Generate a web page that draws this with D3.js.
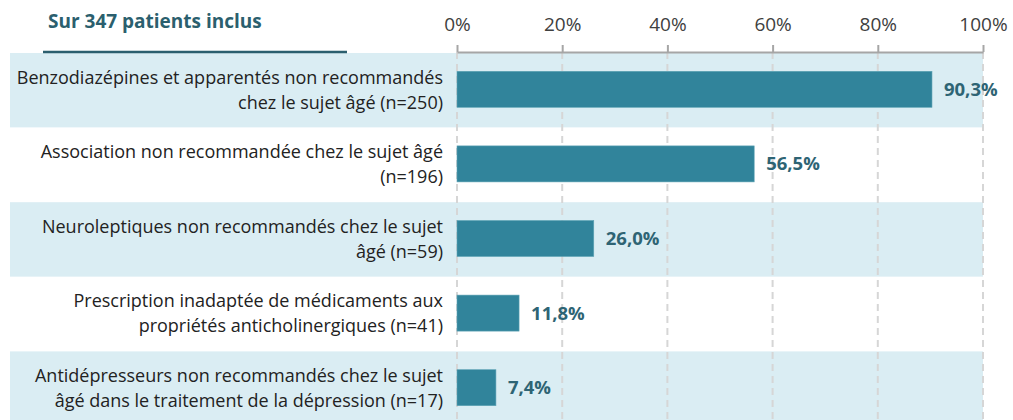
<!DOCTYPE html>
<html><head><meta charset="utf-8">
<script src="https://cdn.jsdelivr.net/npm/d3@7"></script>
<style>
html,body{margin:0;padding:0;background:#fff;}
svg{display:block;}
text{font-family:"Open Sans",sans-serif;}
</style></head>
<body>
<svg id="chart" width="1013" height="420"></svg>
<script>
const title = "Sur 347 patients inclus";
const categories = [
  ["Benzodiazépines et apparentés non recommandés", "chez le sujet âgé (n=250)"],
  ["Association non recommandée chez le sujet âgé", "(n=196)"],
  ["Neuroleptiques non recommandés chez le sujet", "âgé (n=59)"],
  ["Prescription inadaptée de médicaments aux", "propriétés anticholinergiques (n=41)"],
  ["Antidépresseurs non recommandés chez le sujet", "âgé dans le traitement de la dépression (n=17)"]
];
const values = [90.3, 56.5, 26.0, 11.8, 7.4];
const tickValues = [0, 20, 40, 60, 80, 100];
const tickLabels = ["0%", "20%", "40%", "60%", "80%", "100%"];

const svg = d3.select("#chart");
const x = d3.scaleLinear().domain([0, 100]).range([457, 983]);
const y = d3.scaleBand().domain(d3.range(categories.length)).range([53, 426]).paddingInner(0).paddingOuter(0);

svg.append("g").selectAll("rect").data(categories).join("rect")
  .attr("x", 10).attr("width", 983 - 10)
  .attr("y", (d, i) => y(i)).attr("height", y.bandwidth())
  .attr("fill", (d, i) => i % 2 === 0 ? "#daedf3" : "#ffffff");

svg.append("g").selectAll("line").data(tickValues).join("line")
  .attr("x1", d => x(d)).attr("x2", d => x(d))
  .attr("y1", 52).attr("y2", 420)
  .attr("stroke", "#d6d6d6").attr("stroke-width", 2).attr("stroke-dasharray", "7,5");

const axis = d3.axisTop(x).tickValues(tickValues)
  .tickFormat((d, i) => tickLabels[i]).tickSize(7).tickSizeOuter(0).tickPadding(14);
const ax = svg.append("g").attr("transform", "translate(0,52)").call(axis);
ax.select(".domain").attr("stroke", "#a6a6a6").attr("stroke-width", 2);
ax.selectAll(".tick line").attr("stroke", "#a6a6a6").attr("stroke-width", 2);
ax.selectAll(".tick text").attr("fill", "#404040").style("font-size", "19px")
  .style("font-family", "'Open Sans', sans-serif");

const barH = 36;
svg.append("g").selectAll("rect").data(values).join("rect")
  .attr("x", x(0)).attr("y", (d, i) => y(i) + y.bandwidth() / 2 - barH / 2 - 1)
  .attr("width", d => x(d) - x(0)).attr("height", barH)
  .attr("fill", "#31849b").attr("stroke", "#5ea3b5").attr("stroke-width", 0.6);

svg.append("g").selectAll("text").data(values).join("text")
  .attr("x", d => x(d) + 12).attr("y", (d, i) => y(i) + y.bandwidth() / 2 - 1)
  .attr("dy", "0.35em")
  .attr("fill", "#2e6474").style("font-size", "18.5px").style("font-weight", "bold")
  .text(d => d.toFixed(1).replace(".", ",") + "%");

const lab = svg.append("g").selectAll("text").data(categories).join("text")
  .attr("text-anchor", "end").attr("fill", "#222").style("font-size", "18px");
lab.each(function(d, i) {
  const t = d3.select(this);
  const cy = y(i) + y.bandwidth() / 2;
  d.forEach((line, j) => {
    t.append("tspan").attr("x", 443).attr("y", cy - 12 + j * 25 - 1).attr("dy", "0.35em").text(line);
  });
});

svg.append("text").attr("x", 48).attr("y", 28)
  .attr("fill", "#2b5f6e").style("font-size", "19px").style("font-weight", "bold").text(title);
svg.append("line").attr("x1", 43).attr("x2", 347).attr("y1", 52).attr("y2", 52)
  .attr("stroke", "#2b5f6e").attr("stroke-width", 2.5);
</script>
</body></html>
